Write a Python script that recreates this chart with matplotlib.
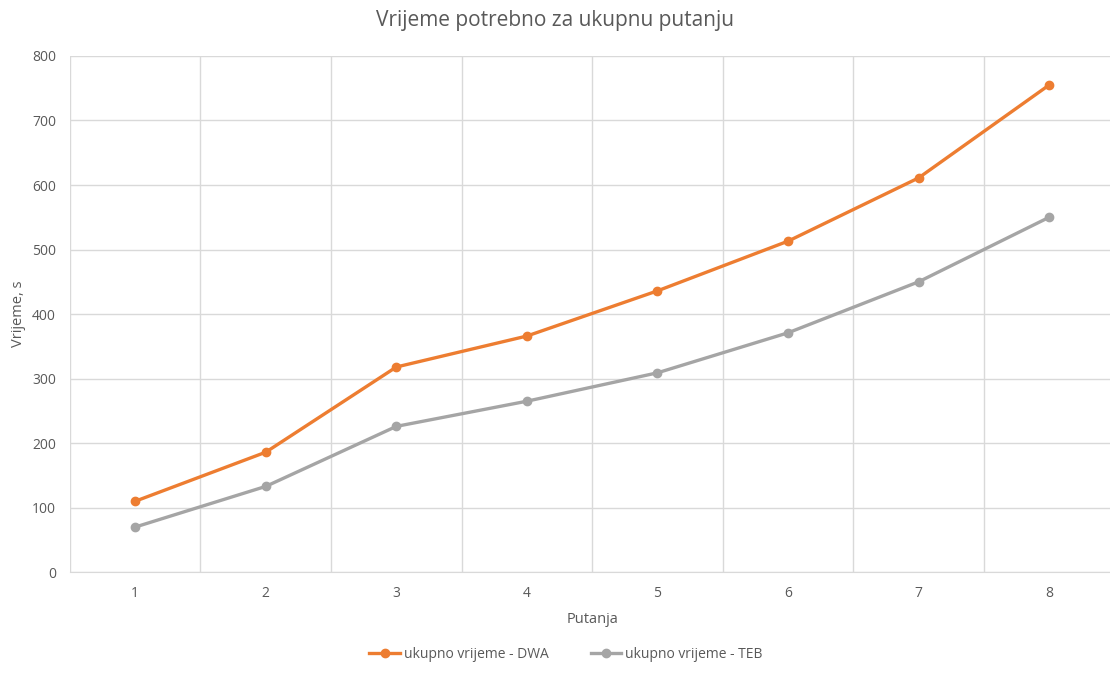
import numpy as np
import matplotlib.pyplot as plt

plt.rcParams['font.family'] = ['Open Sans', 'DejaVu Sans']

# podaci
putanja = [1, 2, 3, 4, 5, 6, 7, 8]
dwa = [110, 186, 318, 366, 436, 513, 611, 755]
teb = [70, 133, 226, 265, 309, 371, 450, 550]

fig = plt.figure(figsize=(11.1, 6.74), dpi=100)
ax = fig.add_axes([0.063, 0.151, 0.941, 0.766])

ax.plot(putanja, dwa, color='#ED7D31', lw=2.4, marker='o', ms=6, label='ukupno vrijeme - DWA')
ax.plot(putanja, teb, color='#A5A5A5', lw=2.4, marker='o', ms=6, label='ukupno vrijeme - TEB')

ax.set_xlim(0.5, 8.5)
ax.set_ylim(0, 800)
ax.set_xticks(putanja)
ax.set_xticks(np.arange(0.5, 9, 1), minor=True)
ax.set_yticks(np.arange(0, 801, 100))
ax.grid(True, which='minor', axis='x', color='#D9D9D9', lw=1)
ax.grid(True, which='major', axis='y', color='#D9D9D9', lw=1)
ax.set_axisbelow(True)
ax.tick_params(which='both', length=0, labelsize=10, colors='#595959', pad=10)
for s in ['top', 'right', 'left']:
    ax.spines[s].set_visible(False)
ax.spines['bottom'].set_color('#D9D9D9')

ax.set_xlabel('Putanja', fontsize=10.5, color='#595959', labelpad=8)
ax.set_ylabel('Vrijeme, s', fontsize=10.5, color='#595959', labelpad=4)
fig.suptitle('Vrijeme potrebno za ukupnu putanju', fontsize=15, color='#595959', y=0.985)

fig.legend(loc='lower center', bbox_to_anchor=(0.51, 0.0), ncol=2, frameon=False,
           fontsize=10, labelcolor='#595959', handlelength=2.2, handletextpad=0.3,
           columnspacing=3.0)

fig.savefig('out.png')
